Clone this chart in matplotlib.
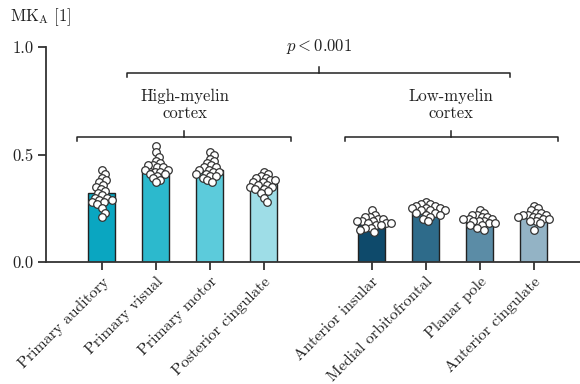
import numpy as np
import matplotlib
matplotlib.use("Agg")
import matplotlib.pyplot as plt

plt.rcParams['font.family'] = 'serif'
plt.rcParams['font.serif'] = ['cmr10', 'DejaVu Serif']
plt.rcParams['mathtext.fontset'] = 'cm'
plt.rcParams['axes.formatter.use_mathtext'] = True

regions = ["Primary auditory", "Primary visual", "Primary motor", "Posterior cingulate",
           "Anterior insular", "Medial orbitofrontal", "Planar pole", "Anterior cingulate"]
positions = [0, 1, 2, 3, 5, 6, 7, 8]
means = [0.32, 0.43, 0.427, 0.361, 0.187, 0.239, 0.19, 0.211]
colors = ["#0aa6c1", "#2cb9cd", "#5ccbdb", "#9edde7",
          "#0e4a6b", "#2e6b8a", "#5b8ca6", "#93b3c5"]

pa = [0.43, 0.41, 0.39, 0.38, 0.37, 0.36, 0.35, 0.34, 0.33, 0.32, 0.31, 0.30, 0.30, 0.29, 0.29, 0.28, 0.28, 0.27, 0.25, 0.23, 0.21]
pv = [0.54, 0.51, 0.49, 0.47, 0.46, 0.45, 0.45, 0.44, 0.44, 0.43, 0.43, 0.42, 0.42, 0.41, 0.41, 0.40, 0.39, 0.38, 0.37]
pm = [0.51, 0.50, 0.48, 0.47, 0.46, 0.45, 0.44, 0.44, 0.43, 0.43, 0.42, 0.42, 0.41, 0.41, 0.40, 0.40, 0.39, 0.38, 0.37]
pc = [0.42, 0.41, 0.40, 0.39, 0.39, 0.38, 0.38, 0.37, 0.37, 0.36, 0.36, 0.35, 0.35, 0.34, 0.34, 0.33, 0.32, 0.30, 0.28]
ai = [0.24, 0.22, 0.21, 0.21, 0.20, 0.20, 0.19, 0.19, 0.19, 0.18, 0.18, 0.18, 0.17, 0.17, 0.16, 0.16, 0.15, 0.14]
mo = [0.28, 0.27, 0.27, 0.26, 0.26, 0.25, 0.25, 0.25, 0.24, 0.24, 0.24, 0.23, 0.23, 0.22, 0.22, 0.21, 0.20, 0.19]
pp = [0.24, 0.23, 0.22, 0.22, 0.21, 0.21, 0.20, 0.20, 0.20, 0.19, 0.19, 0.19, 0.18, 0.18, 0.17, 0.17, 0.16, 0.15]
ac = [0.26, 0.25, 0.24, 0.23, 0.23, 0.22, 0.22, 0.22, 0.21, 0.21, 0.21, 0.20, 0.20, 0.19, 0.19, 0.18, 0.15]
points = [pa, pv, pm, pc, ai, mo, pp, ac]

W, H, DPI = 5.8, 3.84, 100
fig = plt.figure(figsize=(W, H), dpi=DPI)
ax = fig.add_axes([46/580, 1-262/384, 1-46/580, (262-47)/384])
xlim = (-1.031, 8.857)
ylim = (0, 1.0)
ax.set_xlim(*xlim)
ax.set_ylim(*ylim)

px_per_x = 534 / (xlim[1]-xlim[0])
px_per_y = 215 / (ylim[1]-ylim[0])
diam = 5.2

def swarm(vals):
    placed = []
    order = np.argsort(vals)[::-1]
    res = [0.0]*len(vals)
    for i in order:
        y = vals[i]*px_per_y
        cands = [0.0]
        for (px, py) in placed:
            dy = y - py
            if abs(dy) < diam:
                dx = np.sqrt(diam**2 - dy**2)
                cands += [px+dx, px-dx]
        cands.sort(key=abs)
        for c in cands:
            ok = all((c-px)**2 + (y-py)**2 >= diam**2 - 1e-6 for px, py in placed)
            if ok:
                placed.append((c, y))
                res[i] = c/px_per_x
                break
    return res

dark = "#222222"
ax.bar(positions, means, width=0.5, color=colors, edgecolor=dark, linewidth=1.0, zorder=2)
for p, vals in zip(positions, points):
    offs = swarm(vals)
    ax.scatter(np.array(offs)+p, vals, s=30, facecolor="white", edgecolor="#333333",
               linewidth=0.9, zorder=3, clip_on=False)

for s in ['top', 'right']:
    ax.spines[s].set_visible(False)
for s in ['left', 'bottom']:
    ax.spines[s].set_color("#333333")
    ax.spines[s].set_linewidth(1.3)
ax.set_yticks([0.0, 0.5, 1.0])
ax.set_yticklabels(["0.0", "0.5", "1.0"])
ax.set_xticks(positions)
ax.set_xticklabels(regions, rotation=45, ha='right', rotation_mode='anchor')
ax.tick_params(axis='both', length=6, width=1.3, color="#333333", labelsize=12, labelcolor="#222222")
ax.tick_params(axis='x', labelsize=11.5, pad=3)
ax.tick_params(axis='y', pad=3)

def bracket(x0, x1, y, up=0.027, down=0.018, xc=None):
    if xc is None:
        xc = (x0+x1)/2
    ax.plot([x0, x0, x1, x1], [y-down, y, y, y-down], color="#222222", lw=1.1, clip_on=False)
    ax.plot([xc, xc], [y, y+up], color="#222222", lw=1.1, clip_on=False)

bracket(-0.45, 3.5, 0.583)
bracket(4.5, 8.45, 0.583)
bracket(0.47, 7.56, 0.878, xc=4.02)

ax.text(1.54, 0.73, "High-myelin\ncortex", ha='center', va='center', fontsize=12,
        linespacing=1.15, color="#222222")
ax.text(6.47, 0.73, "Low-myelin\ncortex", ha='center', va='center', fontsize=12,
        linespacing=1.15, color="#222222")
ax.text(4.02, 1.0, r"$p < 0.001$", ha='center', va='center', fontsize=12, color="#222222")

fig.text(10/580, 1-17/384, r"$\mathrm{MK_A}\ [1]$", ha='left', va='center', fontsize=12, color="#222222")

fig.savefig("out.png", dpi=DPI)
